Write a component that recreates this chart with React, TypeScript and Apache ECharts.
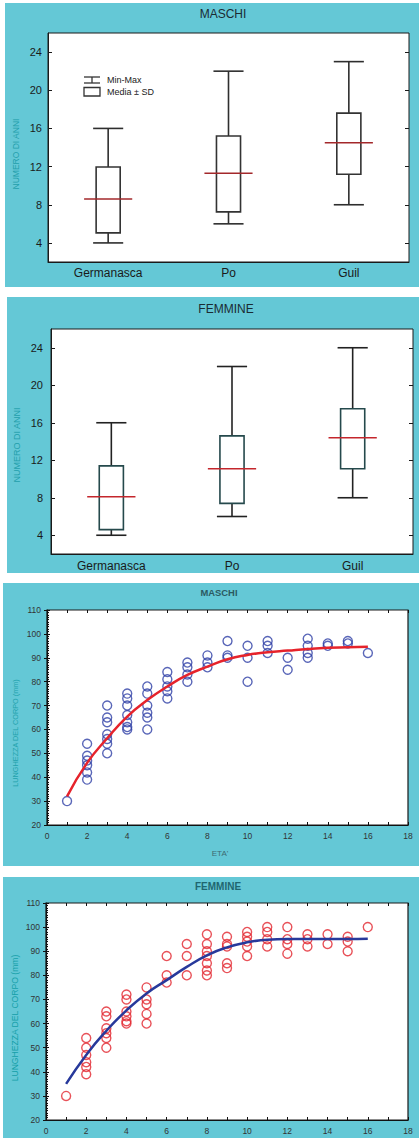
import React, { useEffect, useRef } from "react";
import * as echarts from "echarts";

// ---------- DATA ----------
const categories = ["Germanasca", "Po", "Guil"];
const boxTicks = [4, 8, 12, 16, 20, 24];

const maleMin = [4, 6, 8];
const maleLow = [5.05, 7.25, 11.2];
const maleMean = [8.6, 11.3, 14.5];
const maleHigh = [11.95, 15.2, 17.6];
const maleMax = [16, 22, 23];

const femaleMin = [4, 6, 8];
const femaleLow = [4.6, 7.4, 11.1];
const femaleMean = [8.1, 11.1, 14.4];
const femaleHigh = [11.4, 14.6, 17.5];
const femaleMax = [16, 22, 24];

const ages = [1, 2, 3, 4, 5, 6, 7, 8, 9, 10, 11, 12, 13, 14, 15, 16];

const maleLengthsByAge = [
  [30],
  [54, 49, 47, 45, 42, 39],
  [70, 65, 63, 58, 56, 54, 50],
  [75, 73, 70, 66, 63, 61, 60],
  [78, 75, 70, 67, 65, 60],
  [84, 81, 78, 76, 73],
  [88, 86, 83, 80],
  [91, 88, 86],
  [97, 91, 90],
  [95, 90, 80],
  [97, 95, 92],
  [90, 85],
  [98, 95, 92, 90],
  [96, 95],
  [97, 96],
  [92],
];
const maleFit = [32, 46, 56.3, 65.4, 72.3, 78, 82.8, 86.3, 89.4, 91.2, 92.3, 93, 93.7, 94.2, 94.4, 94.6];

const femaleLengthsByAge = [
  [30],
  [54, 50, 47, 44, 42, 39],
  [65, 63, 58, 56, 54, 50],
  [72, 70, 65, 63, 61, 60],
  [75, 70, 68, 64, 60],
  [88, 80, 77],
  [93, 88, 80],
  [97, 93, 90, 88, 85, 82, 80],
  [96, 93, 92, 85, 83],
  [98, 96, 94, 92, 88],
  [100, 98, 95, 92],
  [100, 95, 93, 89],
  [97, 95, 92],
  [97, 93],
  [96, 94, 90],
  [100],
];
const femaleFit = [35, 47, 57, 65.5, 72.5, 78, 83.5, 88.3, 91.6, 93.7, 94.8, 95.1, 95.1, 95.1, 95.1, 95.2];

// ---------- HELPERS ----------
const FONT = "Liberation Sans, Arial, Helvetica, sans-serif";
const CYAN = "#64c8d6";

function boxData(mn: number[], lo: number[], me: number[], hi: number[], mx: number[]) {
  return categories.map((_, i) => [i, mn[i], lo[i], me[i], hi[i], mx[i]]);
}

function scatterData(byAge: number[][]) {
  const out: number[][] = [];
  byAge.forEach((vals, i) => vals.forEach((v) => out.push([ages[i], v])));
  return out;
}

function fitData(fit: number[]) {
  return ages.map((a, i) => [a, fit[i]]);
}

function makeBoxRender(whisker: string, boxStroke: string, meanColor: string) {
  return (params: any, api: any) => {
    const c = api.value(0);
    const pMin = api.coord([c, api.value(1)]);
    const pLow = api.coord([c, api.value(2)]);
    const pMean = api.coord([c, api.value(3)]);
    const pHigh = api.coord([c, api.value(4)]);
    const pMax = api.coord([c, api.value(5)]);
    const bw = api.size([1, 0])[0];
    const x = pMin[0];
    const boxW = bw * 0.2;
    const capW = bw * 0.25;
    const meanW = bw * 0.4;
    const ls = { stroke: whisker, lineWidth: 1.6, fill: null };
    return {
      type: "group",
      children: [
        { type: "line", shape: { x1: x, y1: pMax[1], x2: x, y2: pHigh[1] }, style: ls },
        { type: "line", shape: { x1: x, y1: pLow[1], x2: x, y2: pMin[1] }, style: ls },
        { type: "line", shape: { x1: x - capW / 2, y1: pMax[1], x2: x + capW / 2, y2: pMax[1] }, style: ls },
        { type: "line", shape: { x1: x - capW / 2, y1: pMin[1], x2: x + capW / 2, y2: pMin[1] }, style: ls },
        {
          type: "rect",
          shape: { x: x - boxW / 2, y: pHigh[1], width: boxW, height: pLow[1] - pHigh[1] },
          style: { fill: "#fff", stroke: boxStroke, lineWidth: 1.6 },
        },
        {
          type: "line",
          shape: { x1: x - meanW / 2, y1: pMean[1], x2: x + meanW / 2, y2: pMean[1] },
          style: { stroke: meanColor, lineWidth: 1.6 },
        },
      ],
    };
  };
}

function boxXAxes(gridIndex: number, labelMargin: number) {
  return [
    {
      type: "category",
      gridIndex,
      data: categories,
      boundaryGap: true,
      axisLine: { lineStyle: { color: "#1a1a1a", width: 1 } },
      axisTick: { inside: true, length: 4, lineStyle: { color: "#1a1a1a" } },
      axisLabel: { fontSize: 12, color: "#1a1a1a", margin: labelMargin, fontFamily: FONT },
      splitLine: { show: false },
    },
    {
      type: "category",
      gridIndex,
      position: "top",
      data: categories,
      boundaryGap: true,
      axisLine: { show: false },
      axisTick: { inside: true, length: 4, lineStyle: { color: "#1a1a1a" } },
      axisLabel: { show: false },
      splitLine: { show: false },
    },
  ];
}

function boxYAxes(gridIndex: number, labelMargin: number) {
  return [
    {
      type: "value",
      gridIndex,
      min: 2,
      max: 26,
      axisLine: { show: true, lineStyle: { color: "#1a1a1a" } },
      axisTick: { show: true, inside: true, length: 4, customValues: boxTicks, lineStyle: { color: "#1a1a1a" } },
      axisLabel: { fontSize: 11, color: "#1a1a1a", margin: labelMargin, customValues: boxTicks, fontFamily: FONT },
      splitLine: { show: false },
    },
    {
      type: "value",
      gridIndex,
      position: "right",
      min: 2,
      max: 26,
      axisLine: { show: false },
      axisTick: { show: true, inside: true, length: 4, customValues: boxTicks, lineStyle: { color: "#1a1a1a" } },
      axisLabel: { show: false, customValues: boxTicks },
      splitLine: { show: false },
    },
  ];
}

function scatterXAxes(gridIndex: number) {
  return [
    {
      type: "value",
      gridIndex,
      min: 0,
      max: 18,
      interval: 2,
      axisLine: { lineStyle: { color: "#111", width: 1.2 } },
      axisTick: { inside: true, length: 3, lineStyle: { color: "#111" } },
      minorTick: { show: true, splitNumber: 2, length: 3, lineStyle: { color: "#111" } },
      axisLabel: { fontSize: 8.5, color: "#333", margin: 6, fontFamily: FONT },
      splitLine: { show: false },
      minorSplitLine: { show: false },
    },
    {
      type: "value",
      gridIndex,
      position: "top",
      min: 0,
      max: 18,
      interval: 2,
      axisLine: { show: false },
      axisTick: { inside: true, length: 3, lineStyle: { color: "#111" } },
      minorTick: { show: true, splitNumber: 2, length: 3, lineStyle: { color: "#111" } },
      axisLabel: { show: false },
      splitLine: { show: false },
    },
  ];
}

function scatterYAxes(gridIndex: number) {
  return [
    {
      type: "value",
      gridIndex,
      min: 20,
      max: 110,
      interval: 10,
      axisLine: { show: true, lineStyle: { color: "#111", width: 1.2 } },
      axisTick: { inside: true, length: 3, lineStyle: { color: "#111" } },
      minorTick: { show: true, splitNumber: 10, length: 2, lineStyle: { color: "#111" } },
      axisLabel: { fontSize: 8.5, color: "#333", margin: 6, fontFamily: FONT },
      splitLine: { show: false },
      minorSplitLine: { show: false },
    },
    {
      type: "value",
      gridIndex,
      position: "right",
      min: 20,
      max: 110,
      interval: 10,
      axisLine: { show: false },
      axisTick: { inside: true, length: 3, lineStyle: { color: "#111" } },
      axisLabel: { show: false },
      splitLine: { show: false },
    },
  ];
}

function vText(text: string, x: number, y: number, size: number, color: string) {
  return {
    type: "text",
    x,
    y,
    rotation: Math.PI / 2,
    z: 100,
    style: { text, fontSize: size, fill: color, fontFamily: FONT, textAlign: "center", textVerticalAlign: "middle" },
  };
}

function hText(text: string, x: number, y: number, size: number, color: string, weight = "normal", align = "center") {
  return {
    type: "text",
    x,
    y,
    z: 100,
    style: {
      text,
      fontSize: size,
      fill: color,
      fontFamily: FONT,
      fontWeight: weight,
      textAlign: align,
      textVerticalAlign: "middle",
    },
  };
}

function gLine(x1: number, y1: number, x2: number, y2: number) {
  return { type: "line", z: 100, shape: { x1, y1, x2, y2 }, style: { stroke: "#333", lineWidth: 1.3 } };
}

export default function App() {
  const ref = useRef<HTMLDivElement>(null);

  useEffect(() => {
    if (!ref.current) return;
    const chart = echarts.init(ref.current, undefined, { renderer: "svg" });

    const gridBase = { show: true, backgroundColor: "#fff", borderColor: "#1a1a1a", borderWidth: 1, containLabel: false };

    const option: any = {
      animation: false,
      backgroundColor: "#fff",
      grid: [
        { ...gridBase, left: 48, top: 33, width: 361, height: 229 },
        { ...gridBase, left: 51, top: 329, width: 362, height: 225 },
        { ...gridBase, left: 47, top: 610, width: 361, height: 215, borderWidth: 1.2 },
        { ...gridBase, left: 46, top: 903, width: 362, height: 217, borderWidth: 1.2 },
      ],
      xAxis: [...boxXAxes(0, 5), ...boxXAxes(1, 6), ...scatterXAxes(2), ...scatterXAxes(3)],
      yAxis: [...boxYAxes(0, 6), ...boxYAxes(1, 8), ...scatterYAxes(2), ...scatterYAxes(3)],
      series: [
        {
          type: "custom",
          name: "MASCHI box",
          xAxisIndex: 0,
          yAxisIndex: 0,
          z: 3,
          encode: { x: 0, y: [1, 2, 3, 4, 5] },
          renderItem: makeBoxRender("#2e2e2e", "#333333", "#a3282b"),
          data: boxData(maleMin, maleLow, maleMean, maleHigh, maleMax),
        },
        {
          type: "custom",
          name: "FEMMINE box",
          xAxisIndex: 2,
          yAxisIndex: 2,
          z: 3,
          encode: { x: 0, y: [1, 2, 3, 4, 5] },
          renderItem: makeBoxRender("#222222", "#25494c", "#c4262c"),
          data: boxData(femaleMin, femaleLow, femaleMean, femaleHigh, femaleMax),
        },
        {
          type: "scatter",
          name: "MASCHI",
          xAxisIndex: 4,
          yAxisIndex: 4,
          symbol: "circle",
          symbolSize: 9,
          z: 3,
          itemStyle: { color: "rgba(0,0,0,0)", borderColor: "#2f40a6", borderWidth: 1.4 },
          data: scatterData(maleLengthsByAge),
        },
        {
          type: "line",
          name: "MASCHI fit",
          xAxisIndex: 4,
          yAxisIndex: 4,
          smooth: true,
          showSymbol: false,
          z: 4,
          lineStyle: { color: "#e6232b", width: 2.5 },
          data: fitData(maleFit),
        },
        {
          type: "scatter",
          name: "FEMMINE",
          xAxisIndex: 6,
          yAxisIndex: 6,
          symbol: "circle",
          symbolSize: 9,
          z: 3,
          itemStyle: { color: "rgba(0,0,0,0)", borderColor: "#e2262e", borderWidth: 1.4 },
          data: scatterData(femaleLengthsByAge),
        },
        {
          type: "line",
          name: "FEMMINE fit",
          xAxisIndex: 6,
          yAxisIndex: 6,
          smooth: true,
          showSymbol: false,
          z: 4,
          lineStyle: { color: "#27399b", width: 2.5 },
          data: fitData(femaleFit),
        },
      ],
      graphic: [
        // cyan panels
        { type: "rect", z: -10, shape: { x: 5, y: 3, width: 414, height: 284 }, style: { fill: CYAN } },
        { type: "rect", z: -10, shape: { x: 7, y: 297, width: 412, height: 276 }, style: { fill: CYAN } },
        { type: "rect", z: -10, shape: { x: 3, y: 583, width: 416, height: 283 }, style: { fill: CYAN } },
        { type: "rect", z: -10, shape: { x: 3, y: 877, width: 416, height: 261 }, style: { fill: CYAN } },
        // titles
        hText("MASCHI", 223, 14, 12, "#1b2b33"),
        hText("FEMMINE", 226, 309, 12, "#1b2b33"),
        hText("MASCHI", 219, 592, 9.4, "#2b5a62", "bold"),
        hText("FEMMINE", 218, 886, 10, "#1f6670", "bold"),
        // axis names
        vText("NUMERO DI ANNI", 16, 154, 8.5, "#239fac"),
        vText("NUMERO DI ANNI", 17, 445, 9, "#239fac"),
        vText("LUNGHEZZA DEL CORPO (mm)", 15, 733, 7.3, "#22a2ad"),
        vText("LUNGHEZZA DEL CORPO (mm)", 15, 1018, 8.6, "#159fa9"),
        hText("ETA'", 220, 853, 8, "#3d6a70"),
        // legend in panel 1
        gLine(84, 77, 100, 77),
        gLine(92, 77, 92, 83),
        gLine(84, 83, 100, 83),
        { type: "rect", z: 100, shape: { x: 84, y: 87.5, width: 16, height: 8.5 }, style: { fill: "#fff", stroke: "#333", lineWidth: 1.3 } },
        hText("Min-Max", 107, 80, 9, "#222", "normal", "left"),
        hText("Media ± SD", 107, 91.5, 9, "#222", "normal", "left"),
      ],
    };

    chart.setOption(option);
    return () => chart.dispose();
  }, []);

  return (
    <div
      ref={ref}
      style={{ position: "absolute", left: 0, top: 0, width: 419, height: 1138, background: "#fff" }}
    />
  );
}
